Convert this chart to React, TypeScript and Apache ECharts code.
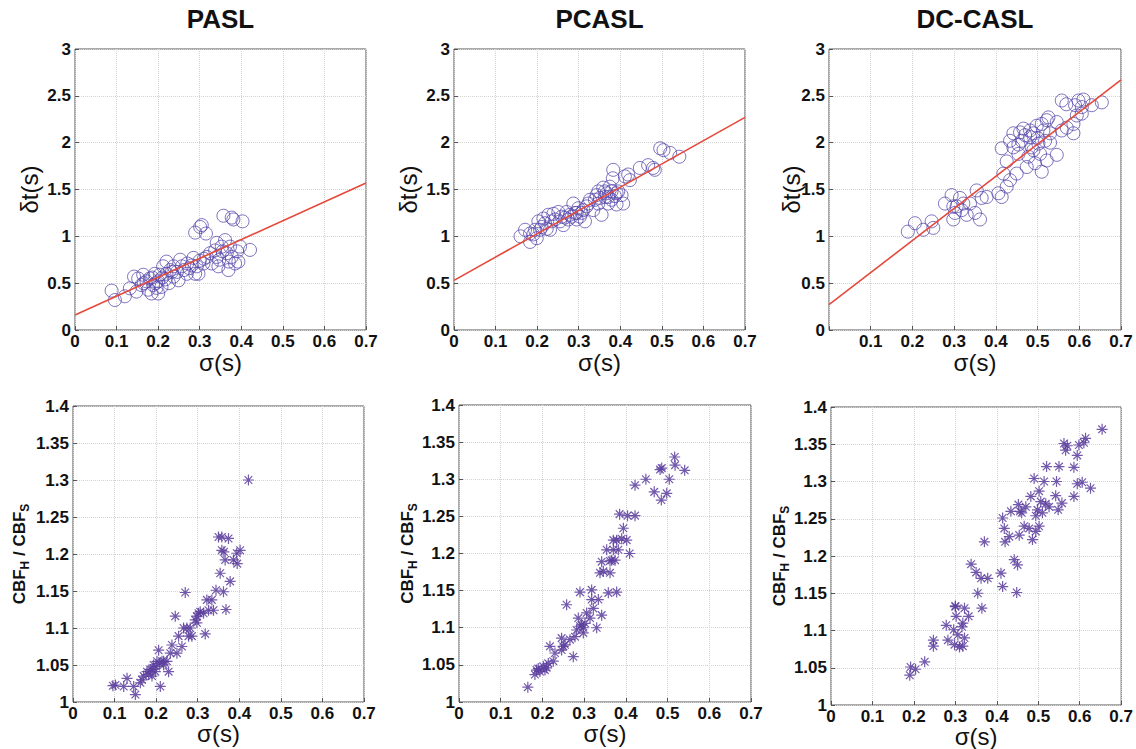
import React, { useEffect, useRef } from "react";
import * as echarts from "echarts";

const FONT = '"Liberation Sans", Arial, Helvetica, sans-serif';

const titles = ["PASL", "PCASL", "DC-CASL"];
const xTicks = { min: 0, max: 0.7, interval: 0.1 };
const yTopTicks = { min: 0, max: 3, interval: 0.5 };
const yBotTicks = { min: 1, max: 1.4, interval: 0.05 };

// delta t vs sigma (open circles)
const paslTop = [
  [0.088, 0.42], [0.096, 0.32], [0.12, 0.36], [0.132, 0.445], [0.142, 0.57], [0.148, 0.41], [0.16, 0.48],
  [0.164, 0.59], [0.172, 0.52], [0.176, 0.43], [0.18, 0.55], [0.184, 0.39], [0.188, 0.48], [0.192, 0.6],
  [0.196, 0.45], [0.2, 0.52], [0.204, 0.59], [0.2, 0.39], [0.208, 0.46], [0.212, 0.68], [0.217, 0.54],
  [0.22, 0.6], [0.229, 0.64], [0.237, 0.57], [0.245, 0.62], [0.249, 0.53], [0.257, 0.68], [0.269, 0.6],
  [0.281, 0.69], [0.285, 0.77], [0.289, 0.6], [0.293, 0.68], [0.297, 0.6], [0.3, 0.74], [0.289, 1.04],
  [0.301, 1.1], [0.305, 1.12], [0.315, 1.03], [0.309, 0.71], [0.317, 0.78], [0.325, 0.82], [0.329, 0.71],
  [0.337, 0.85], [0.341, 0.93], [0.345, 0.68], [0.347, 0.75], [0.353, 0.89], [0.357, 1.22], [0.361, 0.96],
  [0.365, 0.82], [0.369, 0.64], [0.373, 0.89], [0.377, 1.2], [0.381, 1.18], [0.377, 0.78], [0.385, 0.71],
  [0.393, 0.73], [0.397, 0.89], [0.403, 1.16], [0.421, 0.855], [0.37, 0.73], [0.341, 0.78], [0.27, 0.71],
  [0.253, 0.75], [0.237, 0.68], [0.22, 0.73], [0.186, 0.56], [0.194, 0.5], [0.21, 0.56], [0.226, 0.5],
  [0.233, 0.62], [0.262, 0.64], [0.275, 0.66], [0.165, 0.5], [0.152, 0.55], [0.31, 0.76], [0.355, 0.84],
  [0.39, 0.84],
];
const pcaslTop = [
  [0.16, 1.0], [0.183, 0.94], [0.183, 1.03], [0.195, 1.07], [0.199, 0.98], [0.203, 1.16], [0.211, 1.1],
  [0.219, 1.14], [0.227, 1.23], [0.231, 1.07], [0.235, 1.16], [0.243, 1.18], [0.251, 1.26], [0.259, 1.21],
  [0.263, 1.12], [0.271, 1.26], [0.279, 1.23], [0.287, 1.35], [0.291, 1.25], [0.295, 1.18], [0.299, 1.3],
  [0.307, 1.25], [0.315, 1.16], [0.319, 1.32], [0.327, 1.39], [0.335, 1.28], [0.343, 1.44], [0.347, 1.48],
  [0.351, 1.41], [0.355, 1.23], [0.359, 1.52], [0.363, 1.42], [0.367, 1.46], [0.371, 1.35], [0.375, 1.53],
  [0.379, 1.39], [0.383, 1.71], [0.382, 1.62], [0.387, 1.43], [0.391, 1.34], [0.395, 1.48], [0.403, 1.44],
  [0.407, 1.35], [0.411, 1.64], [0.419, 1.66], [0.423, 1.6], [0.447, 1.73], [0.467, 1.76], [0.479, 1.73],
  [0.483, 1.71], [0.496, 1.94], [0.504, 1.92], [0.52, 1.89], [0.542, 1.85], [0.207, 1.07], [0.223, 1.08],
  [0.239, 1.24], [0.255, 1.16], [0.267, 1.2], [0.275, 1.18], [0.283, 1.21], [0.295, 1.25], [0.303, 1.21],
  [0.311, 1.28], [0.323, 1.35], [0.339, 1.39], [0.347, 1.35], [0.363, 1.48], [0.371, 1.42], [0.379, 1.48],
  [0.391, 1.46], [0.191, 1.02], [0.171, 1.07], [0.215, 1.19],
];
const dccaslTop = [
  [0.189, 1.05], [0.206, 1.14], [0.226, 1.07], [0.246, 1.16], [0.25, 1.09], [0.278, 1.35], [0.294, 1.44],
  [0.298, 1.32], [0.298, 1.18], [0.302, 1.25], [0.306, 1.32], [0.314, 1.41], [0.318, 1.28], [0.322, 1.35],
  [0.33, 1.23], [0.338, 1.35], [0.35, 1.25], [0.354, 1.49], [0.362, 1.18], [0.366, 1.41], [0.378, 1.42],
  [0.406, 1.46], [0.414, 1.42], [0.414, 1.94], [0.418, 1.67], [0.426, 1.53], [0.426, 1.8], [0.434, 2.02],
  [0.434, 1.6], [0.442, 2.1], [0.45, 1.67], [0.454, 1.98], [0.454, 1.88], [0.462, 2.02], [0.466, 2.15],
  [0.474, 1.74], [0.478, 1.85], [0.482, 2.06], [0.486, 1.95], [0.49, 2.1], [0.494, 1.78], [0.498, 2.18],
  [0.502, 1.99], [0.506, 1.88], [0.51, 1.69], [0.514, 2.13], [0.518, 2.02], [0.522, 1.81], [0.522, 2.24],
  [0.526, 2.27], [0.53, 2.0], [0.546, 1.87], [0.546, 2.22], [0.558, 2.13], [0.558, 2.45], [0.569, 2.41],
  [0.57, 2.16], [0.586, 2.2], [0.586, 2.1], [0.59, 2.4], [0.598, 2.45], [0.606, 2.38], [0.61, 2.46],
  [0.63, 2.4], [0.654, 2.43], [0.606, 2.31], [0.594, 2.29], [0.458, 2.11], [0.482, 2.13], [0.442, 1.95],
  [0.49, 1.92], [0.51, 2.2], [0.47, 2.08], [0.5, 2.05], [0.53, 2.1],
];

// regression lines [x, y] end points
const paslFit = [[0, 0.16], [0.7, 1.57]];
const pcaslFit = [[0, 0.53], [0.7, 2.27]];
const dccaslFit = [[0, 0.27], [0.7, 2.67]];

// CBF_H / CBF_S vs sigma (asterisks)
const paslBot = [
  [0.096, 1.022], [0.102, 1.023], [0.122, 1.021], [0.13, 1.032], [0.146, 1.021], [0.15, 1.01], [0.162, 1.026],
  [0.166, 1.03], [0.178, 1.041], [0.186, 1.044], [0.19, 1.035], [0.194, 1.05], [0.198, 1.041], [0.202, 1.055],
  [0.206, 1.07], [0.21, 1.021], [0.214, 1.055], [0.218, 1.05], [0.226, 1.055], [0.23, 1.041], [0.234, 1.066],
  [0.238, 1.077], [0.246, 1.116], [0.25, 1.066], [0.254, 1.089], [0.262, 1.075], [0.266, 1.1], [0.27, 1.148],
  [0.278, 1.089], [0.282, 1.1], [0.286, 1.089], [0.294, 1.111], [0.298, 1.116], [0.306, 1.122], [0.318, 1.092],
  [0.322, 1.138], [0.326, 1.124], [0.334, 1.138], [0.338, 1.124], [0.344, 1.151], [0.354, 1.174], [0.358, 1.223],
  [0.362, 1.149], [0.363, 1.203], [0.366, 1.192], [0.368, 1.125], [0.374, 1.221], [0.378, 1.163], [0.394, 1.201],
  [0.395, 1.187], [0.402, 1.205], [0.422, 1.3], [0.298, 1.107], [0.274, 1.1], [0.218, 1.055], [0.182, 1.037],
  [0.17, 1.035], [0.302, 1.12], [0.35, 1.223], [0.386, 1.192], [0.358, 1.205], [0.314, 1.12], [0.2, 1.048],
  [0.208, 1.052], [0.19, 1.044],
];
const pcaslBot = [
  [0.165, 1.02], [0.182, 1.037], [0.186, 1.043], [0.194, 1.041], [0.202, 1.048], [0.206, 1.043], [0.214, 1.052],
  [0.218, 1.075], [0.226, 1.055], [0.23, 1.066], [0.246, 1.086], [0.25, 1.075], [0.254, 1.077], [0.258, 1.131],
  [0.266, 1.084], [0.274, 1.061], [0.278, 1.088], [0.282, 1.097], [0.286, 1.113], [0.29, 1.148], [0.29, 1.102],
  [0.294, 1.104], [0.298, 1.093], [0.306, 1.12], [0.314, 1.113], [0.318, 1.151], [0.318, 1.138], [0.322, 1.126],
  [0.33, 1.1], [0.334, 1.138], [0.342, 1.117], [0.342, 1.189], [0.346, 1.176], [0.354, 1.205], [0.358, 1.147],
  [0.362, 1.174], [0.366, 1.191], [0.37, 1.205], [0.374, 1.191], [0.378, 1.218], [0.378, 1.148], [0.382, 1.205],
  [0.385, 1.253], [0.39, 1.22], [0.394, 1.234], [0.402, 1.218], [0.404, 1.251], [0.409, 1.2], [0.422, 1.251],
  [0.422, 1.292], [0.448, 1.3], [0.468, 1.283], [0.482, 1.313], [0.485, 1.272], [0.486, 1.315], [0.498, 1.281],
  [0.504, 1.3], [0.517, 1.33], [0.518, 1.319], [0.541, 1.312], [0.21, 1.046], [0.246, 1.07], [0.302, 1.106],
  [0.338, 1.174], [0.37, 1.218], [0.19, 1.045], [0.298, 1.1], [0.362, 1.19],
];
const dccaslBot = [
  [0.19, 1.04], [0.192, 1.051], [0.204, 1.048], [0.226, 1.058], [0.247, 1.079], [0.247, 1.087], [0.278, 1.107],
  [0.282, 1.087], [0.296, 1.101], [0.298, 1.081], [0.3, 1.133], [0.302, 1.119], [0.306, 1.094], [0.31, 1.078],
  [0.318, 1.11], [0.322, 1.13], [0.322, 1.09], [0.318, 1.079], [0.332, 1.119], [0.338, 1.189], [0.35, 1.178],
  [0.354, 1.15], [0.362, 1.17], [0.364, 1.13], [0.37, 1.219], [0.378, 1.17], [0.41, 1.177], [0.414, 1.159],
  [0.414, 1.251], [0.418, 1.237], [0.42, 1.219], [0.43, 1.226], [0.434, 1.26], [0.442, 1.195], [0.448, 1.151],
  [0.45, 1.188], [0.454, 1.228], [0.456, 1.26], [0.452, 1.269], [0.466, 1.24], [0.47, 1.266], [0.478, 1.237],
  [0.482, 1.28], [0.486, 1.222], [0.49, 1.304], [0.494, 1.233], [0.498, 1.262], [0.502, 1.287], [0.506, 1.273],
  [0.51, 1.258], [0.514, 1.3], [0.518, 1.27], [0.52, 1.32], [0.526, 1.266], [0.542, 1.281], [0.544, 1.3],
  [0.55, 1.32], [0.548, 1.262], [0.557, 1.271], [0.562, 1.351], [0.57, 1.348], [0.566, 1.342], [0.586, 1.319],
  [0.586, 1.28], [0.594, 1.335], [0.594, 1.297], [0.598, 1.349], [0.606, 1.299], [0.61, 1.352], [0.614, 1.358],
  [0.626, 1.291], [0.654, 1.37], [0.502, 1.24], [0.46, 1.258], [0.494, 1.254], [0.3, 1.132], [0.316, 1.105],
];

const topData = [paslTop, pcaslTop, dccaslTop];
const fitData = [paslFit, pcaslFit, dccaslFit];
const botData = [paslBot, pcaslBot, dccaslBot];

const gridBoxes = [
  { left: 75, top: 49, width: 291, height: 281 },
  { left: 454, top: 49, width: 291, height: 281 },
  { left: 829, top: 49, width: 292, height: 281 },
  { left: 73, top: 406, width: 291, height: 296 },
  { left: 459, top: 405, width: 292, height: 297 },
  { left: 831, top: 407, width: 291, height: 298 },
];
const yNameGapTop = [34, 34, 26];
const yNameGapBot = [42, 40, 40];

const ASTERISK = "path://M6 0L6 12M0 6L12 6M1.8 1.8L10.2 10.2M1.8 10.2L10.2 1.8";

export default function App() {
  const ref = useRef<HTMLDivElement>(null);
  useEffect(() => {
    if (!ref.current) return;
    const chart = echarts.init(ref.current, null, { renderer: "svg" });
    const labelStyle = { fontFamily: FONT, fontWeight: "bold" as const, fontSize: 17, color: "#111" };
    const grids = gridBoxes.map((g) => ({
      ...g,
      show: true,
      borderColor: "#555",
      borderWidth: 1,
      backgroundColor: "#fff",
      containLabel: false,
    }));
    const xAxes = gridBoxes.map((_, i) => ({
      gridIndex: i,
      type: "value",
      ...xTicks,
      axisLine: { show: false },
      axisTick: { show: true, inside: true, length: 4, lineStyle: { color: "#555" } },
      splitLine: { show: true, lineStyle: { color: "#d2d2d2", type: "dotted", width: 1 } },
      axisLabel: {
        ...labelStyle,
        lineHeight: 17,
        margin: 3,
        showMinLabel: true,
        showMaxLabel: true,
        formatter: (v: number) => (i === 2 && v === 0 ? "" : String(parseFloat(v.toFixed(2)))),
      },
      name: "σ(s)",
      nameLocation: "middle",
      nameMoveOverlap: false,
      nameGap: i < 3 ? 20 : 19,
      nameTextStyle: { fontFamily: FONT, fontSize: 24, color: "#111" },
    }));
    const yAxes = gridBoxes.map((_, i) => {
      const top = i < 3;
      return {
        gridIndex: i,
        type: "value",
        ...(top ? yTopTicks : yBotTicks),
        axisLine: { show: false },
        axisTick: { show: true, inside: true, length: 4, lineStyle: { color: "#555" } },
        splitLine: { show: true, lineStyle: { color: "#d2d2d2", type: "dotted", width: 1 } },
        axisLabel: {
          ...labelStyle,
          margin: 4,
          showMinLabel: true,
          showMaxLabel: true,
          formatter: (v: number) => String(parseFloat(v.toFixed(2))),
        },
        name: top ? "δt(s)" : "{a|CBF}{s|H}{a| / CBF}{s|S}",
        nameLocation: "middle",
        nameMoveOverlap: false,
        nameRotate: 90,
        nameGap: top ? yNameGapTop[i] : yNameGapBot[i - 3],
        nameTextStyle: top
          ? { fontFamily: FONT, fontSize: 24, color: "#111" }
          : {
              rich: {
                a: { fontFamily: FONT, fontWeight: "bold", fontSize: 17, color: "#111", lineHeight: 24, verticalAlign: "middle" },
                s: { fontFamily: FONT, fontWeight: "bold", fontSize: 12, color: "#111", lineHeight: 12, verticalAlign: "bottom" },
              },
            },
      };
    });
    const series: any[] = [];
    topData.forEach((d, i) => {
      series.push({
        type: "scatter",
        xAxisIndex: i,
        yAxisIndex: i,
        data: d,
        symbol: "circle",
        symbolSize: 13,
        itemStyle: { color: "transparent", borderColor: "#5243a8", borderWidth: 1, opacity: 0.75 },
        z: 2,
      });
      series.push({
        type: "line",
        xAxisIndex: i,
        yAxisIndex: i,
        data: fitData[i],
        symbol: "none",
        lineStyle: { color: "#e5493a", width: 1.6 },
        z: 3,
      });
    });
    botData.forEach((d, i) => {
      series.push({
        type: "scatter",
        xAxisIndex: i + 3,
        yAxisIndex: i + 3,
        data: d,
        symbol: ASTERISK,
        symbolSize: 11,
        itemStyle: { color: "transparent", borderColor: "#5a3d9c", borderWidth: 1.2, opacity: 0.85 },
        z: 2,
      });
    });
    const graphics = titles.map((t, i) => ({
      type: "text",
      x: gridBoxes[i].left + gridBoxes[i].width / 2,
      y: 19,
      style: {
        text: t,
        font: `bold 26px ${FONT}`,
        fill: "#111",
        textAlign: "center",
        textVerticalAlign: "middle",
        align: "center",
        verticalAlign: "middle",
      },
    }));
    chart.setOption({
      animation: false,
      backgroundColor: "#fff",
      grid: grids,
      xAxis: xAxes,
      yAxis: yAxes,
      series,
      graphic: graphics,
    });
    return () => chart.dispose();
  }, []);
  return (
    <div
      ref={ref}
      style={{ position: "fixed", left: 0, top: 0, width: 1136, height: 749, background: "#fff" }}
    />
  );
}
